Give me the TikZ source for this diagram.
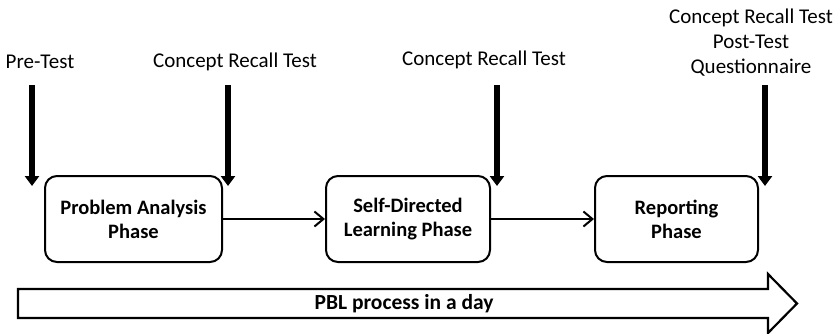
\documentclass[tikz,border=0pt]{standalone}
\usepackage{fontspec}
\setmainfont{Carlito}
\usetikzlibrary{arrows.meta}

\tikzset{
  phase/.style={draw, line width=2pt, rounded corners=12pt, minimum height=86pt,
    align=center, inner sep=0pt, font=\bfseries\fontsize{20.5}{24}\selectfont},
  testlabel/.style={align=center, inner sep=0pt, font=\fontsize{21}{25}\selectfont},
  testarrow/.style={line width=6pt, -{Triangle[width=14pt,length=10pt]}},
  flow/.style={line width=2pt, -{Straight Barb[length=9pt,width=15pt]}}
}

\begin{document}
\begin{tikzpicture}[x=1pt,y=-1pt]
\useasboundingbox (0,0) rectangle (839,333);

% test labels on top
\node[testlabel] (pre) at (40,62) {Pre-Test};
\node[testlabel] (crt1) at (235,62) {Concept Recall Test};
\node[testlabel] (crt2) at (484,60) {Concept Recall Test};
\node[testlabel] (final) at (751,43) {Concept Recall Test\\Post-Test\\Questionnaire};

% the three phases
\node[phase, minimum width=177pt] (pa) at (133.5,219) {Problem Analysis\\Phase};
\node[phase, minimum width=164pt] (sdl) at (408,219) {Self-Directed\\Learning Phase};
\node[phase, minimum width=163pt] (rep) at (676.5,219) {Reporting\\Phase};

\draw[flow] (pa) -- (sdl);
\draw[flow] (sdl) -- (rep);

% arrows for the tests
\coordinate (s1) at (32,85);
\coordinate (t1) at (32,186);
\coordinate (s2) at (228,85);
\coordinate (t2) at (228,186);
\coordinate (s3) at (497,85);
\coordinate (t3) at (497,186);
\coordinate (s4) at (765,85);
\coordinate (t4) at (765,186);
\draw[testarrow] (s1) -- (t1);
\draw[testarrow] (s2) -- (t2);
\draw[testarrow] (s3) -- (t3);
\draw[testarrow] (s4) -- (t4);

% big arrow at the bottom
\draw[line width=2.2pt, line join=miter] (18,289) -- (768,289) -- (768,274) -- (797,303.5)
  -- (768,333) -- (768,318) -- (18,318) -- cycle;
\node[font=\bfseries\fontsize{21.5}{24}\selectfont] (pbl) at (404,303.5) {PBL process in a day};
\end{tikzpicture}
\end{document}
